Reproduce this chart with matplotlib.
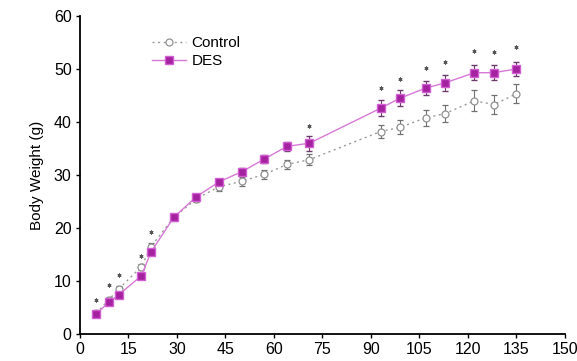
import matplotlib
matplotlib.use("Agg")
import matplotlib.pyplot as plt
from matplotlib.lines import Line2D

plt.rcParams['font.family'] = ['Liberation Sans', 'DejaVu Sans']

days = [5, 9, 12, 19, 22, 29, 36, 43, 50, 57, 64, 71, 93, 99, 107, 113, 122, 128, 135]
control = [3.9, 6.5, 8.5, 12.7, 16.5, 22.0, 25.5, 27.8, 28.8, 30.1, 32.0, 32.9,
           38.2, 39.0, 40.8, 41.6, 44.0, 43.3, 45.3]
control_err = [0.4, 0.5, 0.5, 0.6, 0.7, 0.6, 0.6, 0.8, 0.8, 0.8, 0.9, 1.1,
               1.3, 1.3, 1.5, 1.6, 2.0, 1.8, 1.8]
des = [3.8, 6.0, 7.4, 11.0, 15.5, 22.0, 25.9, 28.7, 30.6, 33.0, 35.4, 36.0,
       42.6, 44.5, 46.4, 47.4, 49.3, 49.3, 50.0]
des_err = [0.4, 0.4, 0.5, 0.5, 0.6, 0.5, 0.6, 0.6, 0.7, 0.7, 0.9, 1.4,
           1.5, 1.5, 1.4, 1.5, 1.4, 1.4, 1.3]
star_days = [5, 9, 12, 19, 22, 71, 93, 99, 107, 113, 122, 128, 135]
star_y = [6.4, 9.3, 11.2, 14.7, 19.2, 39.2, 46.4, 48.1, 50.2, 51.3, 53.4, 53.2, 54.2]

xticks = [0, 15, 30, 45, 60, 75, 90, 105, 120, 135, 150]
yticks = [0, 10, 20, 30, 40, 50, 60]

fig = plt.figure(figsize=(5.77, 3.61), dpi=100)
ax = fig.add_axes([0.1386, 0.0748, 0.8404, 0.8809])

c_kw = dict(color='#9a9a9a', ls=(0, (1.5, 2.5)), lw=1.0,
            marker='o', ms=5, mfc='white', mec='#909090', mew=0.9)
d_kw = dict(color='#d779d7', ls='-', lw=1.0,
            marker='s', ms=5.5, mfc='#a4229f', mec='#d25fd2', mew=1.0)

ax.errorbar(days, control, yerr=control_err, ecolor='#707070', elinewidth=0.8,
            capsize=2, capthick=0.8, zorder=2, **c_kw)
ax.errorbar(days, des, yerr=des_err, ecolor='#6a3a6a', elinewidth=0.8,
            capsize=2, capthick=0.8, zorder=3, **d_kw)
ax.plot(star_days, star_y, ls='none', marker=(6, 2, 0), ms=2.8, color='#555555', mew=0.7)

ax.set_xlim(0, 150)
ax.set_ylim(0, 60)
ax.set_xticks(xticks)
ax.set_yticks(yticks)
ax.tick_params(direction='out', length=3, width=1, labelsize=11.5, pad=3)
for s in ['top', 'right']:
    ax.spines[s].set_visible(False)
for s in ['left', 'bottom']:
    ax.spines[s].set_linewidth(1.3)
ax.set_ylabel('Body Weight (g)', fontsize=11, labelpad=7)

handles = [Line2D([], [], **c_kw), Line2D([], [], **d_kw)]
ax.legend(handles, ['Control', 'DES'], loc='upper left', bbox_to_anchor=(0.12, 0.98),
          frameon=False, fontsize=11, handlelength=2.2, handletextpad=0.4, labelspacing=0.25)

fig.savefig('out.png', dpi=100)
